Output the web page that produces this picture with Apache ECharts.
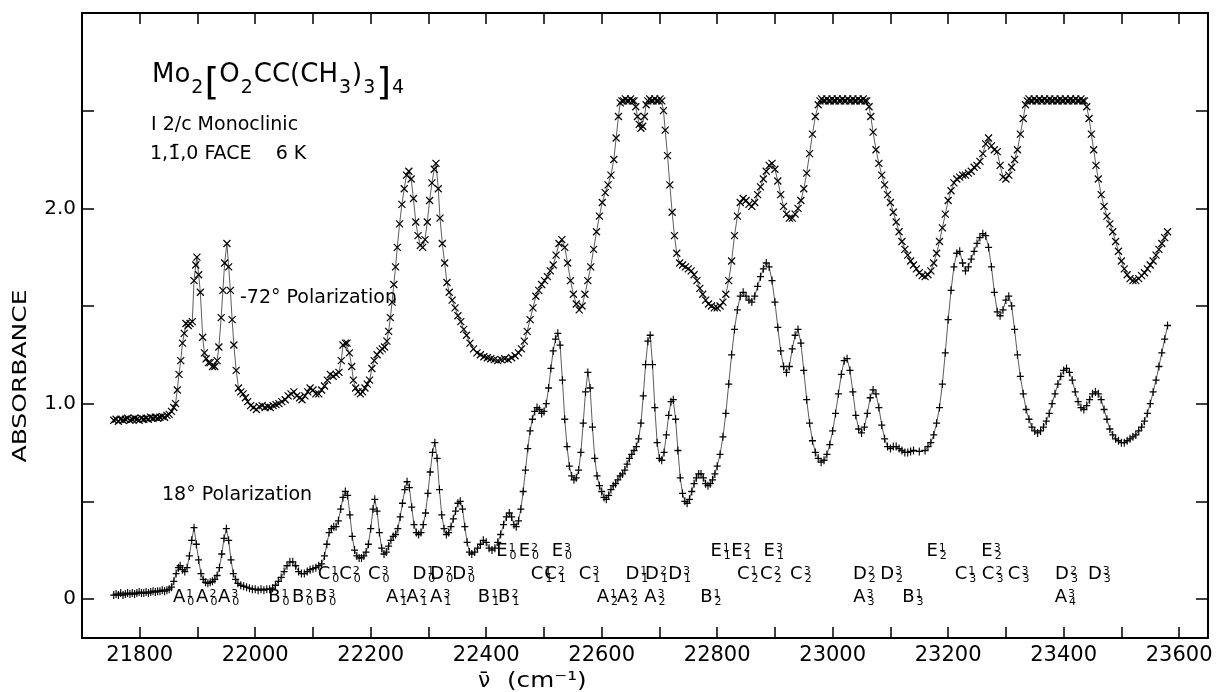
<!DOCTYPE html>
<html><head><meta charset="utf-8">
<script src="https://cdn.jsdelivr.net/npm/echarts@6/dist/echarts.min.js"></script>
<style>html,body{margin:0;padding:0;background:#fff}#c{width:1216px;height:692px}</style>
</head><body><div id="c"></div>
<script>
// ---------------- data ----------------
const xTickValues = [21800,21900,22000,22100,22200,22300,22400,22500,22600,22700,22800,22900,23000,23100,23200,23300,23400,23500,23600];
const xLabelValues = [21800,22000,22200,22400,22600,22800,23000,23200,23400,23600];
const yTickValues = [0,0.5,1.0,1.5,2.0,2.5];
const yLabelValues = [0,1.0,2.0];

// -72 deg polarization (x markers)
const upper = [[21755,.915],[21759,.92],[21763,.91],[21767,.92],[21771,.915],[21775,.92],[21779,.925],[21783,.915],[21787,.92],[21791,.925],[21795,.92],[21799,.915],[21803,.925],[21807,.92],[21811,.925],[21815,.92],[21819,.93],[21823,.925],[21827,.93],[21831,.925],[21835,.93],[21839,.935],[21843,.93],[21847,.94],[21851,.945],[21855,.96],[21859,.98],[21862,1.0],[21865,1.07],[21868,1.15],[21871,1.22],[21874,1.31],[21877,1.36],[21880,1.41],[21884,1.40],[21887,1.41],[21891,1.42],[21894,1.63],[21897,1.71],[21899,1.75],[21902,1.66],[21905,1.57],[21909,1.34],[21912,1.26],[21915,1.23],[21919,1.21],[21922,1.21],[21926,1.19],[21930,1.19],[21934,1.22],[21937,1.29],[21941,1.44],[21944,1.58],[21947,1.72],[21951,1.82],[21954,1.70],[21957,1.58],[21960,1.43],[21963,1.30],[21967,1.17],[21971,1.08],[21975,1.06],[21979,1.05],[21983,1.03],[21987,1.01],[21992,.99],[21997,.98],[22002,.97],[22007,.985],[22012,.99],[22017,.98],[22022,.985],[22026,.98],[22031,.99],[22036,.995],[22041,1.0],[22046,1.01],[22052,1.02],[22057,1.04],[22062,1.05],[22067,1.06],[22072,1.04],[22077,1.03],[22081,1.02],[22086,1.04],[22091,1.06],[22095,1.08],[22100,1.07],[22105,1.05],[22110,1.05],[22115,1.07],[22120,1.09],[22125,1.12],[22130,1.15],[22135,1.14],[22140,1.15],[22145,1.16],[22149,1.22],[22152,1.30],[22156,1.31],[22159,1.31],[22163,1.26],[22167,1.19],[22170,1.12],[22174,1.08],[22178,1.06],[22182,1.05],[22186,1.06],[22190,1.08],[22194,1.10],[22198,1.12],[22202,1.18],[22206,1.22],[22211,1.25],[22216,1.27],[22220,1.28],[22224,1.29],[22228,1.32],[22231,1.37],[22234,1.44],[22237,1.52],[22240,1.61],[22243,1.70],[22246,1.80],[22250,1.92],[22254,2.02],[22258,2.10],[22262,2.17],[22266,2.19],[22270,2.15],[22274,2.05],[22278,1.93],[22282,1.86],[22286,1.81],[22290,1.80],[22294,1.84],[22298,1.93],[22302,2.04],[22306,2.13],[22310,2.20],[22313,2.23],[22317,2.10],[22320,1.95],[22324,1.82],[22328,1.72],[22332,1.62],[22336,1.57],[22341,1.53],[22346,1.49],[22351,1.45],[22356,1.42],[22361,1.38],[22366,1.35],[22372,1.31],[22378,1.28],[22384,1.26],[22390,1.25],[22396,1.24],[22402,1.235],[22408,1.23],[22414,1.225],[22420,1.22],[22426,1.225],[22432,1.23],[22438,1.225],[22444,1.235],[22450,1.245],[22456,1.26],[22461,1.28],[22466,1.32],[22471,1.37],[22476,1.43],[22481,1.49],[22486,1.55],[22491,1.58],[22496,1.61],[22501,1.63],[22506,1.65],[22511,1.68],[22516,1.71],[22521,1.76],[22526,1.82],[22531,1.84],[22536,1.80],[22541,1.72],[22546,1.63],[22551,1.56],[22556,1.51],[22561,1.48],[22566,1.50],[22571,1.56],[22576,1.63],[22581,1.70],[22586,1.79],[22591,1.88],[22596,1.96],[22601,2.03],[22606,2.08],[22611,2.12],[22616,2.17],[22621,2.25],[22625,2.36],[22629,2.47],[22632,2.54],[22635,2.55],[22638,2.55],[22641,2.56],[22644,2.55],[22647,2.55],[22650,2.56],[22653,2.55],[22656,2.55],[22659,2.52],[22662,2.47],[22665,2.43],[22668,2.41],[22671,2.42],[22674,2.47],[22677,2.53],[22680,2.55],[22683,2.56],[22686,2.55],[22689,2.55],[22692,2.56],[22695,2.55],[22698,2.55],[22701,2.56],[22704,2.55],[22707,2.50],[22710,2.40],[22714,2.27],[22718,2.12],[22722,1.98],[22726,1.86],[22730,1.77],[22735,1.72],[22740,1.71],[22745,1.70],[22750,1.69],[22755,1.68],[22760,1.66],[22765,1.63],[22770,1.59],[22775,1.56],[22780,1.53],[22785,1.51],[22790,1.50],[22795,1.49],[22800,1.49],[22805,1.50],[22810,1.52],[22815,1.56],[22820,1.63],[22825,1.73],[22830,1.86],[22835,1.96],[22840,2.03],[22845,2.05],[22850,2.04],[22855,2.02],[22860,2.01],[22865,2.03],[22870,2.07],[22875,2.11],[22880,2.15],[22885,2.19],[22890,2.22],[22895,2.23],[22900,2.20],[22905,2.14],[22910,2.07],[22915,2.01],[22920,1.97],[22925,1.95],[22930,1.95],[22935,1.97],[22940,2.00],[22945,2.04],[22950,2.10],[22955,2.18],[22960,2.28],[22965,2.38],[22970,2.47],[22975,2.53],[22978,2.55],[22981,2.56],[22984,2.55],[22987,2.55],[22990,2.56],[22993,2.55],[22996,2.55],[22999,2.56],[23002,2.55],[23005,2.55],[23008,2.56],[23011,2.55],[23014,2.55],[23017,2.56],[23020,2.55],[23023,2.55],[23026,2.56],[23029,2.55],[23032,2.55],[23035,2.56],[23038,2.55],[23041,2.55],[23044,2.56],[23047,2.55],[23050,2.55],[23053,2.56],[23056,2.55],[23059,2.55],[23063,2.52],[23066,2.47],[23070,2.39],[23075,2.30],[23080,2.23],[23085,2.17],[23090,2.12],[23095,2.07],[23100,2.03],[23105,1.98],[23110,1.93],[23115,1.88],[23120,1.83],[23125,1.79],[23130,1.76],[23135,1.73],[23140,1.71],[23145,1.69],[23150,1.67],[23155,1.655],[23160,1.65],[23165,1.66],[23170,1.68],[23175,1.72],[23180,1.77],[23185,1.83],[23190,1.90],[23195,1.97],[23200,2.04],[23205,2.09],[23210,2.13],[23215,2.15],[23220,2.16],[23225,2.17],[23230,2.17],[23235,2.18],[23240,2.19],[23245,2.21],[23250,2.22],[23255,2.24],[23260,2.28],[23265,2.33],[23270,2.36],[23275,2.32],[23280,2.30],[23285,2.29],[23290,2.22],[23295,2.16],[23300,2.15],[23305,2.17],[23310,2.21],[23315,2.25],[23320,2.30],[23325,2.38],[23330,2.46],[23334,2.53],[23337,2.55],[23340,2.56],[23343,2.55],[23346,2.55],[23349,2.56],[23352,2.55],[23355,2.55],[23358,2.56],[23361,2.55],[23364,2.55],[23367,2.56],[23370,2.55],[23373,2.55],[23376,2.56],[23379,2.55],[23382,2.55],[23385,2.56],[23388,2.55],[23391,2.55],[23394,2.56],[23397,2.55],[23400,2.55],[23403,2.56],[23406,2.55],[23409,2.55],[23412,2.56],[23415,2.55],[23418,2.55],[23421,2.56],[23424,2.55],[23427,2.55],[23430,2.56],[23433,2.55],[23436,2.55],[23440,2.52],[23444,2.46],[23448,2.38],[23452,2.30],[23456,2.22],[23460,2.15],[23465,2.07],[23470,2.01],[23475,1.96],[23480,1.92],[23485,1.88],[23490,1.83],[23495,1.78],[23500,1.73],[23505,1.69],[23510,1.66],[23515,1.64],[23520,1.63],[23525,1.63],[23530,1.64],[23535,1.655],[23540,1.67],[23545,1.69],[23550,1.71],[23555,1.73],[23560,1.76],[23565,1.79],[23570,1.82],[23575,1.85],[23580,1.88]];

// 18 deg polarization (+ markers)
const lower = [[21755,.02],[21759,.025],[21763,.02],[21767,.03],[21771,.02],[21775,.025],[21779,.03],[21783,.025],[21787,.03],[21791,.025],[21795,.03],[21799,.035],[21803,.03],[21807,.03],[21811,.035],[21815,.03],[21819,.035],[21823,.04],[21827,.035],[21831,.04],[21835,.04],[21839,.045],[21843,.04],[21847,.045],[21851,.05],[21855,.06],[21859,.09],[21863,.13],[21867,.16],[21870,.17],[21874,.15],[21878,.14],[21882,.16],[21886,.22],[21890,.30],[21894,.365],[21898,.28],[21902,.20],[21906,.13],[21910,.10],[21914,.085],[21918,.08],[21922,.085],[21926,.09],[21930,.10],[21934,.12],[21938,.16],[21942,.23],[21946,.31],[21950,.36],[21954,.30],[21958,.20],[21962,.13],[21966,.10],[21970,.08],[21975,.07],[21980,.065],[21985,.06],[21990,.055],[21995,.05],[22000,.05],[22005,.045],[22010,.05],[22015,.045],[22020,.05],[22025,.05],[22030,.055],[22035,.07],[22040,.09],[22045,.11],[22050,.14],[22055,.17],[22060,.19],[22065,.19],[22070,.17],[22075,.14],[22080,.13],[22085,.13],[22090,.14],[22095,.15],[22100,.155],[22105,.16],[22110,.17],[22115,.18],[22120,.22],[22124,.28],[22128,.34],[22132,.36],[22136,.37],[22140,.37],[22144,.40],[22148,.46],[22152,.52],[22156,.55],[22160,.53],[22164,.43],[22168,.32],[22172,.25],[22176,.22],[22180,.21],[22184,.21],[22188,.22],[22192,.24],[22196,.28],[22200,.36],[22204,.46],[22207,.51],[22211,.45],[22215,.34],[22219,.26],[22223,.23],[22227,.24],[22231,.27],[22235,.30],[22239,.32],[22243,.33],[22247,.36],[22251,.42],[22255,.49],[22259,.56],[22263,.60],[22267,.57],[22271,.47],[22275,.38],[22279,.34],[22283,.33],[22287,.34],[22291,.38],[22295,.44],[22299,.54],[22303,.65],[22307,.75],[22311,.80],[22315,.72],[22319,.56],[22323,.43],[22327,.36],[22331,.33],[22335,.34],[22339,.37],[22343,.41],[22347,.45],[22351,.49],[22355,.50],[22359,.46],[22363,.37],[22367,.29],[22371,.24],[22375,.23],[22380,.24],[22385,.26],[22390,.28],[22395,.30],[22400,.29],[22405,.26],[22410,.25],[22415,.26],[22420,.29],[22425,.33],[22430,.38],[22435,.42],[22440,.44],[22444,.42],[22448,.38],[22452,.37],[22456,.40],[22460,.46],[22464,.55],[22468,.66],[22472,.77],[22476,.86],[22480,.92],[22484,.96],[22488,.98],[22492,.97],[22496,.95],[22500,.96],[22504,1.00],[22508,1.08],[22512,1.18],[22516,1.27],[22520,1.33],[22524,1.36],[22528,1.30],[22532,1.12],[22536,.92],[22540,.78],[22544,.68],[22548,.63],[22552,.61],[22556,.62],[22560,.66],[22564,.75],[22568,.90],[22572,1.06],[22576,1.16],[22580,1.08],[22584,.88],[22588,.72],[22592,.63],[22596,.58],[22600,.55],[22604,.52],[22608,.51],[22612,.53],[22616,.56],[22620,.58],[22624,.59],[22628,.61],[22632,.63],[22636,.64],[22640,.66],[22644,.69],[22648,.72],[22652,.74],[22656,.76],[22660,.78],[22664,.82],[22668,.90],[22672,1.04],[22676,1.20],[22680,1.32],[22684,1.35],[22688,1.20],[22692,.98],[22696,.80],[22700,.72],[22704,.71],[22708,.75],[22712,.84],[22716,.94],[22720,1.01],[22724,1.02],[22728,.92],[22732,.76],[22736,.62],[22740,.54],[22744,.50],[22748,.49],[22752,.51],[22756,.55],[22760,.59],[22764,.62],[22768,.64],[22772,.64],[22776,.62],[22780,.59],[22784,.58],[22788,.59],[22792,.61],[22796,.64],[22800,.68],[22805,.74],[22810,.83],[22815,.95],[22820,1.10],[22825,1.25],[22830,1.38],[22835,1.48],[22840,1.55],[22845,1.57],[22850,1.55],[22855,1.53],[22860,1.52],[22865,1.55],[22870,1.60],[22875,1.65],[22880,1.69],[22885,1.72],[22890,1.70],[22895,1.63],[22900,1.52],[22905,1.39],[22910,1.27],[22915,1.19],[22920,1.16],[22925,1.19],[22930,1.28],[22935,1.35],[22940,1.38],[22945,1.31],[22950,1.17],[22955,1.02],[22960,.90],[22965,.81],[22970,.75],[22975,.72],[22980,.70],[22985,.71],[22990,.74],[22995,.79],[23000,.86],[23005,.95],[23010,1.05],[23015,1.15],[23020,1.22],[23025,1.23],[23030,1.17],[23035,1.06],[23040,.94],[23045,.87],[23050,.85],[23055,.88],[23060,.95],[23065,1.03],[23070,1.07],[23075,1.05],[23080,.98],[23085,.89],[23090,.82],[23095,.78],[23100,.77],[23105,.78],[23110,.78],[23115,.77],[23120,.76],[23125,.75],[23130,.75],[23135,.755],[23140,.76],[23150,.755],[23160,.76],[23165,.78],[23170,.80],[23175,.84],[23180,.90],[23185,.98],[23190,1.10],[23195,1.26],[23200,1.43],[23205,1.58],[23210,1.70],[23215,1.77],[23220,1.78],[23225,1.72],[23230,1.68],[23235,1.70],[23240,1.74],[23245,1.78],[23250,1.82],[23255,1.85],[23260,1.87],[23265,1.86],[23270,1.80],[23275,1.70],[23280,1.57],[23285,1.47],[23290,1.45],[23295,1.48],[23300,1.53],[23305,1.55],[23310,1.50],[23315,1.38],[23320,1.25],[23325,1.14],[23330,1.05],[23335,.97],[23340,.92],[23345,.88],[23350,.86],[23355,.85],[23360,.86],[23365,.88],[23370,.91],[23375,.95],[23380,1.00],[23385,1.05],[23390,1.10],[23395,1.14],[23400,1.17],[23405,1.18],[23410,1.16],[23415,1.12],[23420,1.06],[23425,1.01],[23430,.98],[23435,.97],[23440,.99],[23445,1.02],[23450,1.05],[23455,1.06],[23460,1.05],[23465,1.02],[23470,.97],[23475,.92],[23480,.87],[23485,.84],[23490,.82],[23495,.81],[23500,.80],[23505,.80],[23510,.81],[23515,.82],[23520,.83],[23525,.84],[23530,.86],[23535,.88],[23540,.91],[23545,.95],[23550,1.00],[23555,1.06],[23560,1.12],[23565,1.19],[23570,1.26],[23575,1.33],[23580,1.40]];

// band assignment labels
const bandLetter = ['A','A','A','B','B','B','A','A','A','B','B','A','A','A','B','A','B','A',
  'C','C','C','D','D','D','C','C','C','D','D','D','C','C','C','D','D','C','C','C','D','D',
  'E','E','E','E','E','E','E','E'];
const bandSup = ['1','2','3','1','2','3','1','2','3','1','2','1','2','3','1','3','1','3',
  '1','2','3','1','2','3','1','2','3','1','2','3','1','2','3','2','3','1','2','3','2','3',
  '1','2','3','1','2','3','1','3'];
const bandSub = ['0','0','0','0','0','0','1','1','1','1','1','2','2','2','2','3','3','4',
  '0','0','0','0','0','0','1','1','1','1','1','1','2','2','2','2','2','3','3','3','3','3',
  '0','0','0','1','1','1','2','2'];
const bandX = [21876,21916,21954,22041,22082,22122,22245,22280,22321,22404,22439,22610,22645,22692,22789,23054,23139,23403,
  22127,22164,22214,22292,22323,22361,22496,22519,22579,22661,22695,22735,22853,22893,22945,23055,23102,23230,23277,23322,23405,23462,
  22435,22474,22531,22806,22842,22898,23180,23275];
const bandY = [0.004,0.004,0.004,0.004,0.004,0.004,0.004,0.004,0.004,0.004,0.004,0.004,0.004,0.004,0.004,0.004,0.004,0.004,
  0.122,0.122,0.122,0.122,0.122,0.122,0.122,0.122,0.122,0.122,0.122,0.122,0.122,0.122,0.122,0.122,0.122,0.122,0.122,0.122,0.122,0.122,
  0.239,0.239,0.239,0.239,0.239,0.239,0.239,0.239];

// ---------------- chart ----------------
const F = 'DejaVu Sans';
const chart = echarts.init(document.getElementById('c'), null, {renderer: 'canvas'});
const axisLineStyle = {color: '#000', width: 2};
const tickStyle = {color: '#000', width: 1.5};
const xBase = {type: 'value', min: 21700, max: 23650, splitLine: {show: false},
  axisLine: {show: true, onZero: false, lineStyle: axisLineStyle},
  axisTick: {show: true, inside: true, length: 11, lineStyle: tickStyle, customValues: xTickValues}};
const yBase = {type: 'value', min: -0.2, max: 3.0, splitLine: {show: false},
  axisLine: {show: true, onZero: false, lineStyle: axisLineStyle},
  axisTick: {show: true, inside: true, length: 12, lineStyle: tickStyle, customValues: yTickValues}};

const xSym = 'path://M0,0L10,10M10,0L0,10';
const pSym = 'path://M5,0L5,10M0,5L10,5';
const tok = {color: '#000', fill: '#000', textBorderWidth: 0, fontFamily: F, opacity: 1};

const option = {
  animation: false,
  backgroundColor: '#fff',
  grid: {left: 82, right: 8, top: 13, bottom: 54, containLabel: false, outerBoundsMode: 'none'},
  xAxis: [
    Object.assign({}, xBase, {position: 'bottom',
      axisLabel: {show: true, customValues: xLabelValues, color: '#000', fontFamily: F, fontSize: 21, margin: 7,
        formatter: v => String(Math.round(v))}}),
    Object.assign({}, xBase, {position: 'top', axisLabel: {show: false}})
  ],
  yAxis: [
    Object.assign({}, yBase, {position: 'left',
      axisLabel: {show: true, customValues: yLabelValues, color: '#000', fontFamily: F, fontSize: 20, margin: 6,
        formatter: v => (v === 0 ? '0' : v.toFixed(1))}}),
    Object.assign({}, yBase, {position: 'right', axisLabel: {show: false}})
  ],
  series: [
    {type: 'line', name: '-72', data: upper, xAxisIndex: 0, yAxisIndex: 0,
      symbol: xSym, symbolSize: 7, showAllSymbol: true,
      itemStyle: {color: 'transparent', borderColor: '#000', borderWidth: 1.2},
      lineStyle: {color: '#333', width: 0.8}, z: 3},
    {type: 'line', name: '18', data: lower, xAxisIndex: 0, yAxisIndex: 0,
      symbol: pSym, symbolSize: [7, 8], showAllSymbol: true,
      itemStyle: {color: 'transparent', borderColor: '#000', borderWidth: 1.2},
      lineStyle: {color: '#333', width: 0.8}, z: 3},
    {type: 'scatter', name: 'bands', xAxisIndex: 0, yAxisIndex: 0, symbolSize: 0, silent: true, z: 5,
      itemStyle: {opacity: 1, color: '#000'},
      data: bandX.map((x, i) => [x, bandY[i]]),
      label: {show: true, position: 'inside', color: '#000', textBorderWidth: 0, opacity: 1,
        formatter: p => '{m|' + bandLetter[p.dataIndex] + '}{p|' + bandSup[p.dataIndex] + '}{q|' + bandSub[p.dataIndex] + '}',
        rich: {
          m: Object.assign({fontSize: 18, height: 18, align: 'left', verticalAlign: 'top'}, tok),
          p: Object.assign({fontSize: 11, height: 11, width: 0, padding: [0, 0, 0, 1], align: 'left', verticalAlign: 'top'}, tok),
          q: Object.assign({fontSize: 11, height: 11, padding: [8, 0, 0, 1], align: 'left', verticalAlign: 'top'}, tok)
        }}}
  ],
  graphic: [
    {type: 'text', x: 152, y: 62, style: {
      text: '{m|Mo}{s|2}{b|[}{m|O}{s|2}{m|CC(CH}{s|3}{m|)}{s|3}{b|]}{s|4}',
      fill: '#000', fontFamily: F, fontSize: 26, textVerticalAlign: 'top',
      rich: {
        m: {fontSize: 26, fontFamily: F, fill: '#000', height: 26, align: 'left', verticalAlign: 'top'},
        s: {fontSize: 19, fontFamily: F, fill: '#000', height: 19, padding: [17, 1, 0, 1], align: 'left', verticalAlign: 'top'},
        b: {fontSize: 38, fontFamily: F, fill: '#000', height: 38, padding: [3, 0, 0, 0], align: 'left', verticalAlign: 'top'}
      }}},
    {type: 'text', x: 151, y: 125, style: {text: 'I 2/c Monoclinic', fill: '#000', fontFamily: F, fontSize: 19, textVerticalAlign: 'middle'}},
    {type: 'text', x: 150, y: 154, style: {text: '1,1\u0304,0 FACE    6 K', fill: '#000', fontFamily: F, fontSize: 19, textVerticalAlign: 'middle'}},
    {type: 'text', x: 240, y: 298, style: {text: '-72\u00b0 Polarization', fill: '#000', fontFamily: F, fontSize: 19, textVerticalAlign: 'middle'}},
    {type: 'text', x: 162, y: 495, style: {text: '18\u00b0 Polarization', fill: '#000', fontFamily: F, fontSize: 19, textVerticalAlign: 'middle'}},
    {type: 'text', x: 21, y: 376, rotation: Math.PI / 2, scaleX: 1.25,
      style: {text: 'ABSORBANCE', fill: '#000', fontFamily: F, fontSize: 20, textAlign: 'center', textVerticalAlign: 'middle'}},
    {type: 'text', x: 478, y: 681, style: {text: '\u03bd\u0304', fill: '#000', fontFamily: F, fontSize: 22, textVerticalAlign: 'middle'}},
    {type: 'text', x: 507, y: 681, scaleX: 1.12, style: {text: '(cm\u207b\u00b9)', fill: '#000', fontFamily: F, fontSize: 22, textVerticalAlign: 'middle'}}
  ]
};
chart.setOption(option);
</script></body></html>
